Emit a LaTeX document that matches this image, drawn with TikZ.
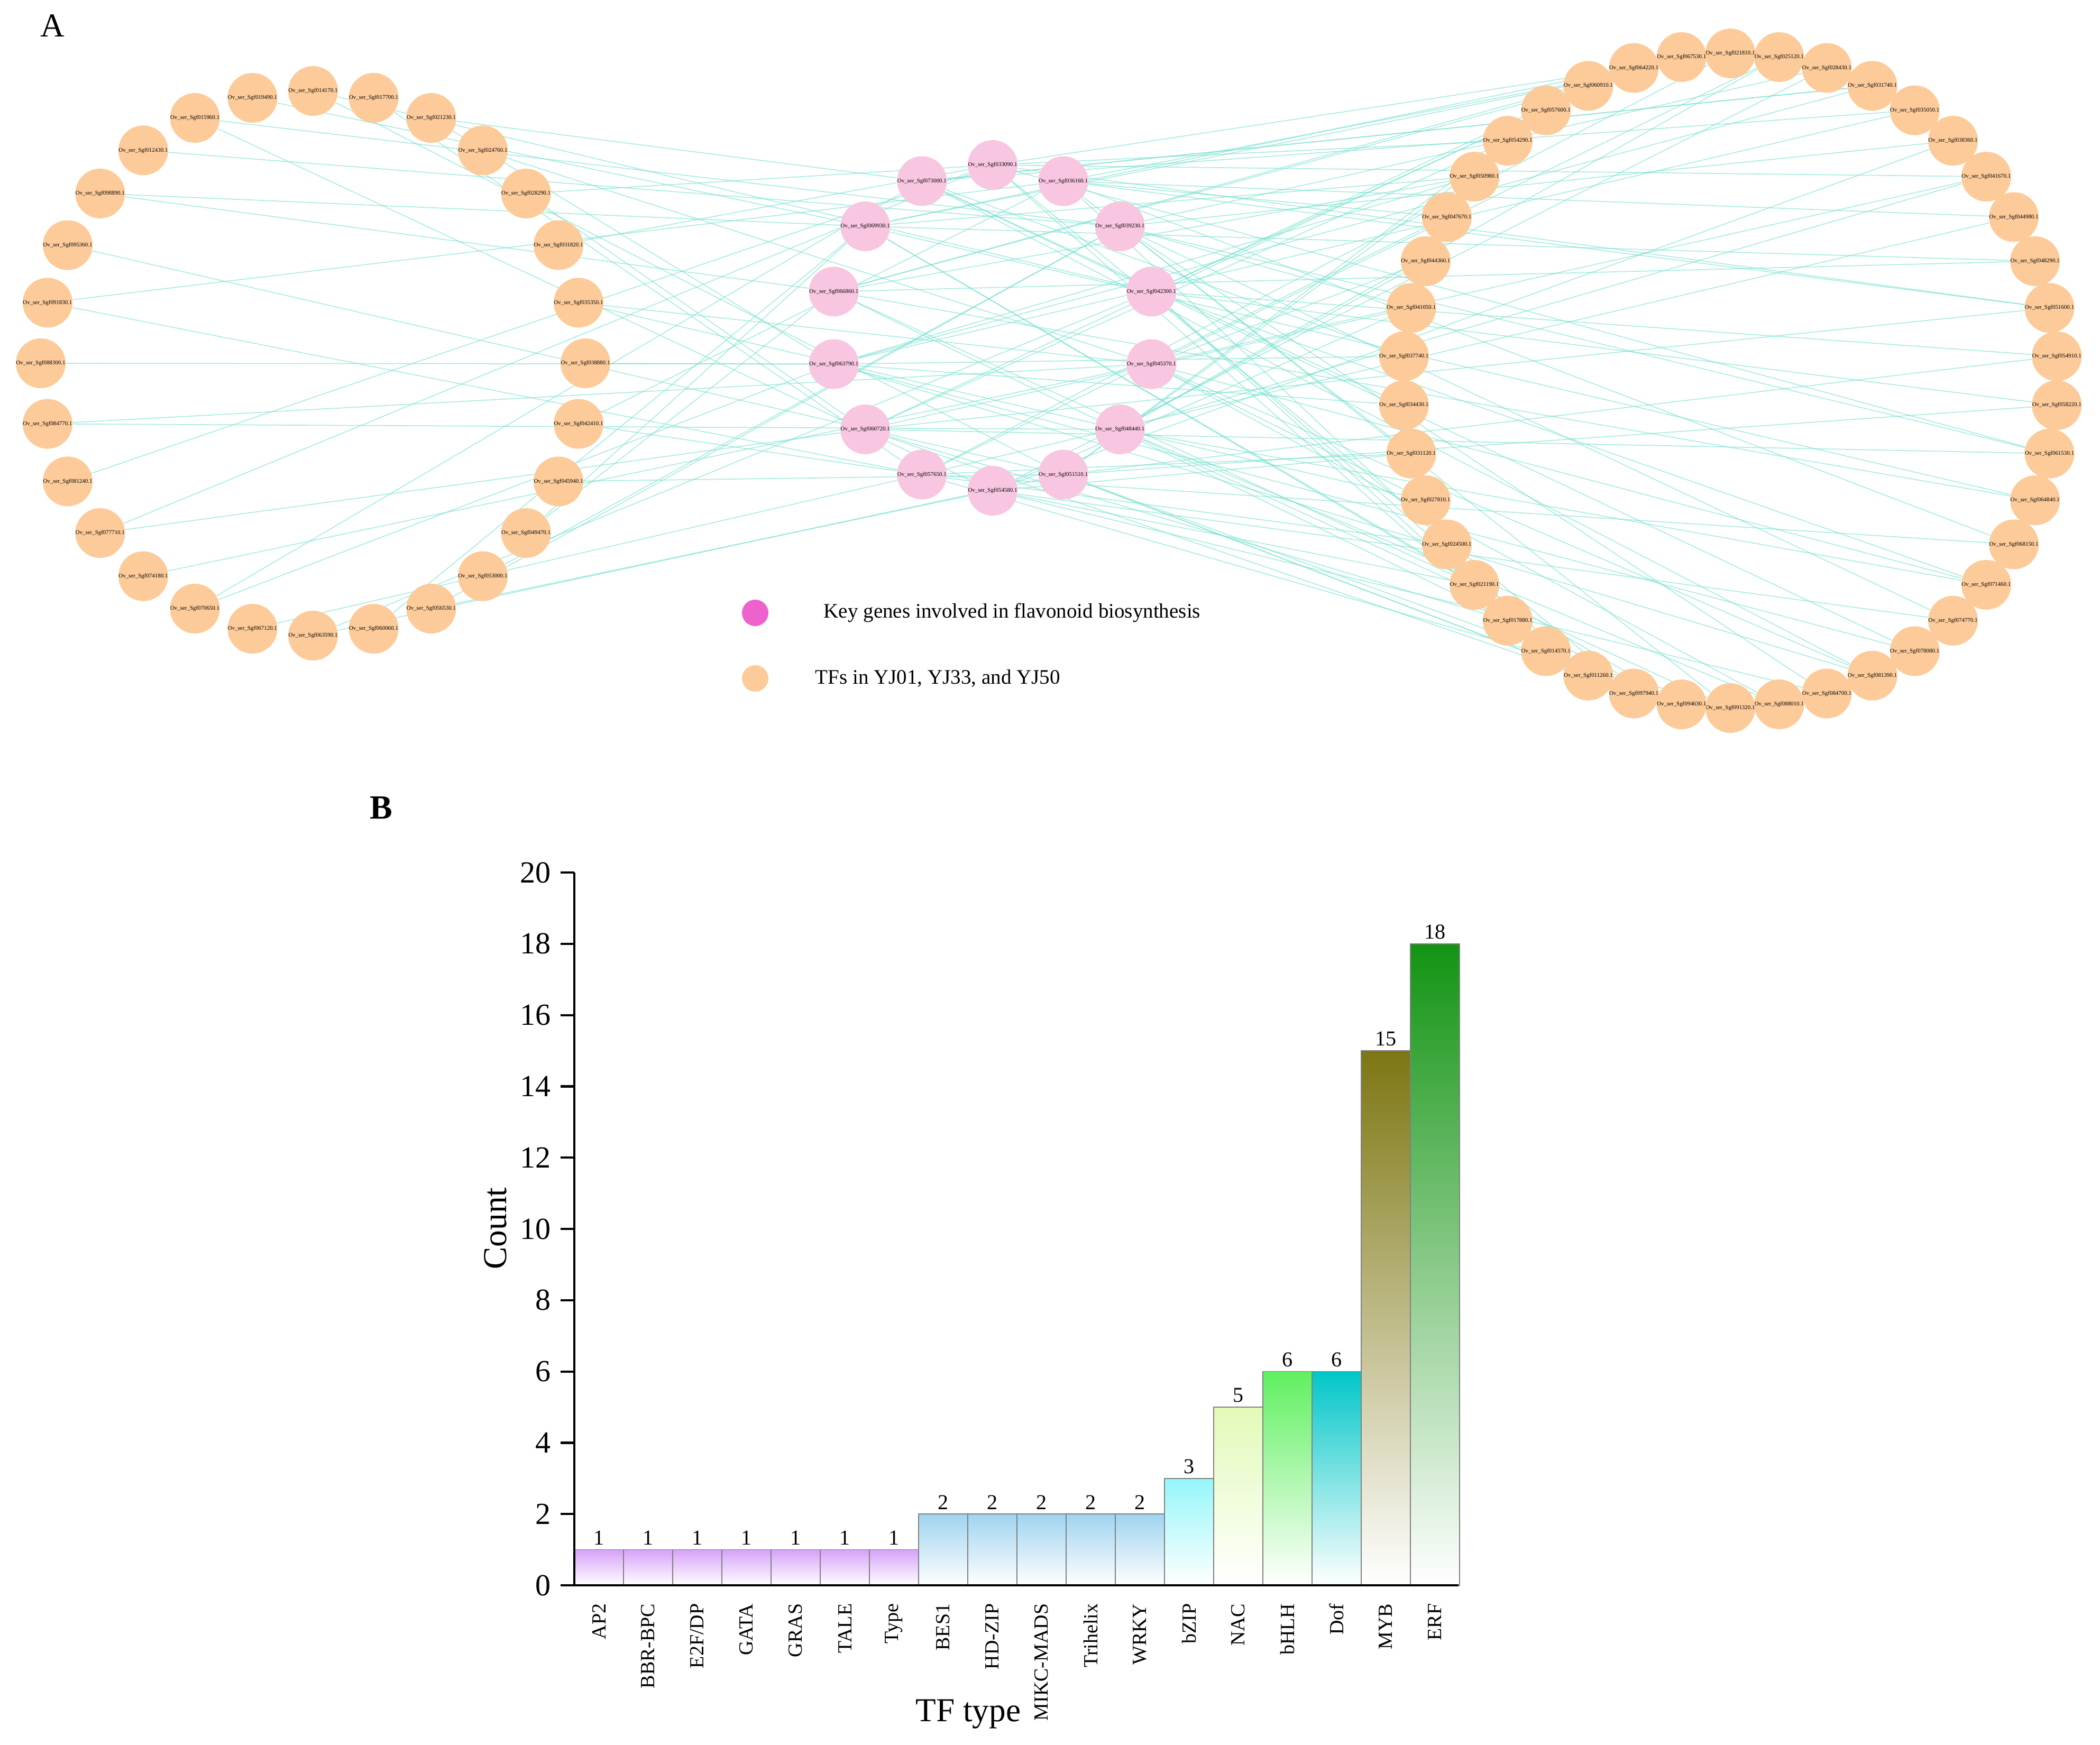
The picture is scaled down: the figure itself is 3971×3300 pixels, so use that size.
\documentclass[tikz,border=0pt]{standalone}
\usepackage{fontspec}
\setmainfont{Liberation Serif}
\usetikzlibrary{backgrounds}
\definecolor{tforange}{RGB}{252,203,153}
\definecolor{keypink}{RGB}{248,198,225}
\definecolor{keydot}{RGB}{238,98,206}
\definecolor{edgecyan}{RGB}{118,224,207}
\definecolor{barpurple}{RGB}{214,162,248}
\definecolor{barblue}{RGB}{160,212,240}
\definecolor{barcyan}{RGB}{148,246,250}
\definecolor{barnac}{RGB}{226,250,184}
\definecolor{barbhlh}{RGB}{96,240,96}
\definecolor{bardof}{RGB}{0,198,200}
\definecolor{barmyb}{RGB}{125,118,18}
\definecolor{barerf}{RGB}{18,148,18}
\newcommand{\fsz}[1]{\fontsize{#1}{#1}\selectfont}
\newcommand{\geneid}[1]{Ov\_ser\_Sgf0#10.1}
\begin{document}
\begin{tikzpicture}[x=0.01cm,y=-0.01cm,
  tfnode/.style={circle,fill=tforange,minimum size=0.94cm,inner sep=0pt,font=\fsz{3.1pt}},
  keynode/.style={tfnode,fill=keypink},
  edge/.style={draw=edgecyan,line width=0.5pt,draw opacity=0.6},
  legdot/.style={circle,minimum size=0.5cm,inner sep=0pt},
  legtext/.style={anchor=west,inner sep=0pt,font=\fsz{11.1pt}},
  panel/.style={inner sep=0pt,font=\fsz{18pt}},
  barframe/.style={draw=black!50,line width=0.45pt},
  axisline/.style={line width=1.2pt},
  ticklab/.style={anchor=east,inner sep=0pt,font=\fsz{16.5pt}},
  vallab/.style={anchor=south,inner sep=0pt,font=\fsz{11.4pt}},
  catlab/.style={anchor=east,rotate=90,inner sep=0pt,font=\fsz{10.8pt}},
  axtitle/.style={inner sep=0pt,font=\fsz{18pt}}]
\useasboundingbox (0,0) rectangle (3971,3300);

% ---------- A: network ----------
\node[panel] (pA) at (99,49) {A};

\def\lx{592}; \def\ly{687}; \def\lr{515};
\def\cx{1877}; \def\cy{620}; \def\cr{308};
\def\rx{3272}; \def\ry{720}; \def\rr{619};

% key genes (centre ring)
\foreach \i in {0,...,13} {
  \pgfmathsetmacro\a{90-\i*360/14}
  \pgfmathtruncatemacro\gid{1000+mod(\i*307+2309,8999)}
  \node[keynode] (P\i) at ({\cx+\cr*cos(\a)},{\cy-\cr*sin(\a)}) {\geneid{\gid}};
}
% TFs, left ring
\foreach \i in {0,...,27} {
  \pgfmathsetmacro\a{90-\i*360/28}
  \pgfmathtruncatemacro\gid{1000+mod(\i*353+417,8999)}
  \node[tfnode] (L\i) at ({\lx+\lr*cos(\a)},{\ly-\lr*sin(\a)}) {\geneid{\gid}};
}
% TFs, right ring
\foreach \i in {0,...,41} {
  \pgfmathsetmacro\a{90-\i*360/42}
  \pgfmathtruncatemacro\gid{1000+mod(\i*331+1181,8999)}
  \node[tfnode] (R\i) at ({\rx+\rr*cos(\a)},{\ry-\rr*sin(\a)}) {\geneid{\gid}};
}

\begin{pgfonlayer}{background}
\foreach \i in {0,...,27} {
  \pgfmathtruncatemacro\pa{mod(\i*5+3,14)}
  \draw[edge] (L\i) -- (P\pa);
  \ifodd\i\else
    \pgfmathtruncatemacro\pb{mod(\i*9+6,14)}
    \draw[edge] (L\i) -- (P\pb);
  \fi
}
\foreach \i in {0,...,41} {
  \pgfmathtruncatemacro\pa{mod(\i*3+1,14)}
  \pgfmathtruncatemacro\pb{mod(\i*11+8,14)}
  \draw[edge] (R\i) -- (P\pa);
  \draw[edge] (R\i) -- (P\pb);
  \pgfmathtruncatemacro\m{mod(\i,3)}
  \ifnum\m=0
    \pgfmathtruncatemacro\pc{mod(\i*5+12,14)}
    \draw[edge] (R\i) -- (P\pc);
  \fi
}
\end{pgfonlayer}

% legend
\node[legdot,fill=keydot] (kdot) at (1428,1159) {};
\node[legtext] (ktext) at (1557,1159) {Key genes involved in flavonoid biosynthesis};
\node[legdot,fill=tforange] (tdot) at (1428,1283) {};
\node[legtext] (ttext) at (1541,1283) {TFs in YJ01, YJ33, and YJ50};

% ---------- B: bar chart ----------
\node[panel,font=\fsz{18.2pt}\bfseries] (pB) at (721,1528) {B};

\def\xo{1086}; \def\yo{2998}; \def\bw{93}; \def\un{67.4};

\foreach \lab/\val/\col [count=\k from 0] in {AP2/1/barpurple,BBR-BPC/1/barpurple,{E2F/DP}/1/barpurple,
    GATA/1/barpurple,GRAS/1/barpurple,TALE/1/barpurple,Type/1/barpurple,BES1/2/barblue,
    HD-ZIP/2/barblue,MIKC-MADS/2/barblue,Trihelix/2/barblue,WRKY/2/barblue,bZIP/3/barcyan,
    NAC/5/barnac,bHLH/6/barbhlh,Dof/6/bardof,MYB/15/barmyb,ERF/18/barerf} {
  \pgfmathsetmacro\bx{\xo+\k*\bw}
  \pgfmathsetmacro\by{\yo-\val*\un}
  \draw[barframe,top color=\col,bottom color=white] (\bx,\yo) rectangle (\bx+\bw,\by);
  \node[vallab] (v\k) at (\bx+0.5*\bw,\by-8) {\val};
  \node[catlab] (c\k) at (\bx+0.5*\bw,3032) {\lab};
}

% axes
\draw[axisline] (1060,\yo) -- (2758,\yo);
\draw[axisline] (\xo,\yo) -- (\xo,{\yo-20*\un});
\foreach \t in {0,2,...,20} {
  \draw[axisline] (1060,{\yo-\t*\un}) -- (\xo,{\yo-\t*\un});
  \node[ticklab] (t\t) at (1042,{\yo-\t*\un}) {\t};
}
\node[axtitle,rotate=90] (ycap) at (937,2323) {Count};
\node[axtitle] (xcap) at (1831,3242) {TF type};
\end{tikzpicture}
\end{document}
